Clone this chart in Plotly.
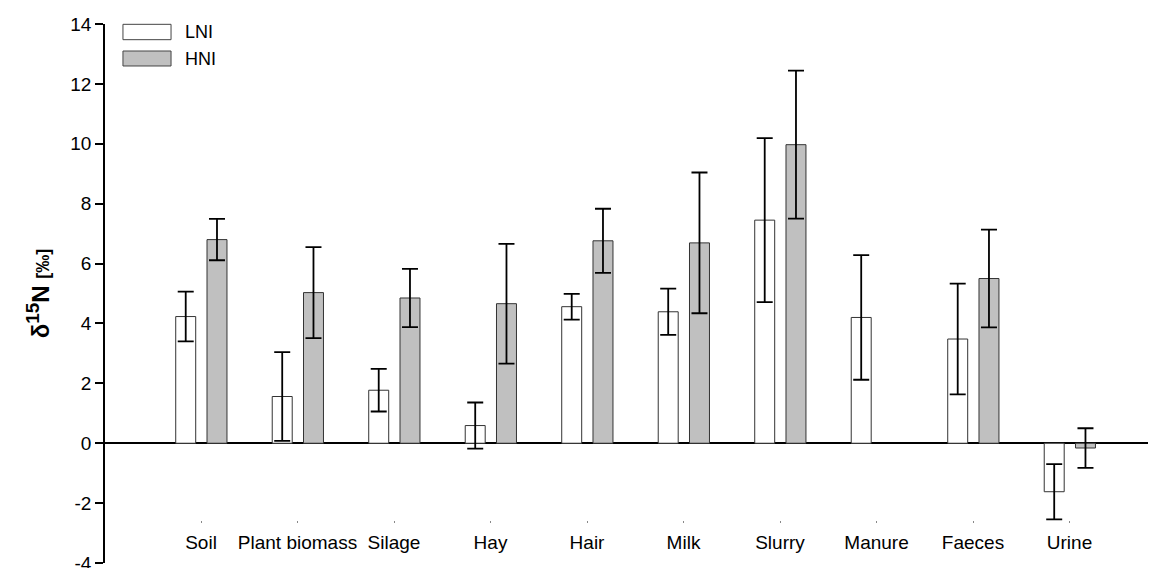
import plotly.graph_objects as go

categories = ["Soil", "Plant biomass", "Silage", "Hay", "Hair", "Milk", "Slurry", "Manure", "Faeces", "Urine"]
lni_values = [4.23, 1.56, 1.77, 0.59, 4.56, 4.39, 7.45, 4.20, 3.48, -1.62]
lni_errors = [0.83, 1.48, 0.71, 0.77, 0.43, 0.77, 2.74, 2.08, 1.85, 0.92]
hni_values = [6.80, 5.03, 4.85, 4.66, 6.76, 6.69, 9.97, None, 5.50, -0.16]
hni_errors = [0.69, 1.52, 0.97, 2.00, 1.07, 2.35, 2.47, None, 1.63, 0.66]
y_ticks = [-4, -2, 0, 2, 4, 6, 8, 10, 12, 14]
y_ticktext = ["-4", "-2", "0", "2", "4", "6", "8", "10", "12", "14"]

xpos = list(range(len(categories)))
FONT = "Liberation Sans, Arial, sans-serif"
BAR_W = 0.207

fig = go.Figure()
fig.add_trace(go.Bar(
    x=xpos, y=lni_values, name="LNI", width=BAR_W, offset=-0.262,
    marker=dict(color="white", line=dict(color="#333333", width=1)),
    error_y=dict(type="data", array=lni_errors, visible=True, color="black", thickness=1.8, width=8),
    showlegend=False,
))
fig.add_trace(go.Bar(
    x=xpos, y=hni_values, name="HNI", width=BAR_W, offset=0.062,
    marker=dict(color="#c0c0c0", line=dict(color="#333333", width=1)),
    error_y=dict(type="data", array=hni_errors, visible=True, color="black", thickness=1.8, width=8),
    showlegend=False,
))

# legend drawn manually (wide rectangles like the reference)
fig.add_shape(type="rect", xref="paper", yref="paper", x0=0.0171, x1=0.0629, y0=0.9709, y1=0.9994,
              line=dict(color="#444444", width=1), fillcolor="white")
fig.add_shape(type="rect", xref="paper", yref="paper", x0=0.0171, x1=0.0629, y0=0.9221, y1=0.9499,
              line=dict(color="#444444", width=1), fillcolor="#c0c0c0")
fig.add_annotation(xref="paper", yref="paper", x=0.0743, y=0.985, text="LNI", showarrow=False,
                   xanchor="left", yanchor="middle", font=dict(family=FONT, size=18, color="black"))
fig.add_annotation(xref="paper", yref="paper", x=0.0743, y=0.935, text="HNI", showarrow=False,
                   xanchor="left", yanchor="middle", font=dict(family=FONT, size=18, color="black"))

# page body has an 8px margin, so the figure is sized/offset to compensate
fig.update_layout(
    width=1148, height=560,
    margin=dict(l=97, r=1, t=16, b=5, autoexpand=False),
    plot_bgcolor="white", paper_bgcolor="white",
    font=dict(family=FONT, color="black"),
    barmode="overlay",
    xaxis=dict(
        range=[-0.995, 9.886], tickmode="array", tickvals=xpos, ticktext=categories,
        showline=False, showgrid=False, zeroline=False, automargin=False,
        ticks="outside", ticklen=2, tickcolor="#888888", tickwidth=1,
        anchor="free", position=(-2.55 + 4) / 18, ticklabelstandoff=4,
        tickfont=dict(family=FONT, size=19, color="black"),
    ),
    yaxis=dict(
        range=[-4, 14], tickmode="array", tickvals=y_ticks, ticktext=y_ticktext,
        showline=True, linecolor="black", linewidth=1.5, automargin=False,
        ticks="outside", ticklen=8, tickcolor="black", tickwidth=1.5,
        ticklabeloverflow="allow",
        showgrid=False, zeroline=True, zerolinecolor="black", zerolinewidth=1.5,
        tickfont=dict(family=FONT, size=19, color="black"),
        title=dict(text="<b>δ<sup><span style='font-size:19px'>15</span></sup>N <span style='font-size:18px'>[‰]</span></b>",
                   font=dict(family=FONT, size=24, color="black"), standoff=14),
    ),
)

fig.write_html("out.html")
